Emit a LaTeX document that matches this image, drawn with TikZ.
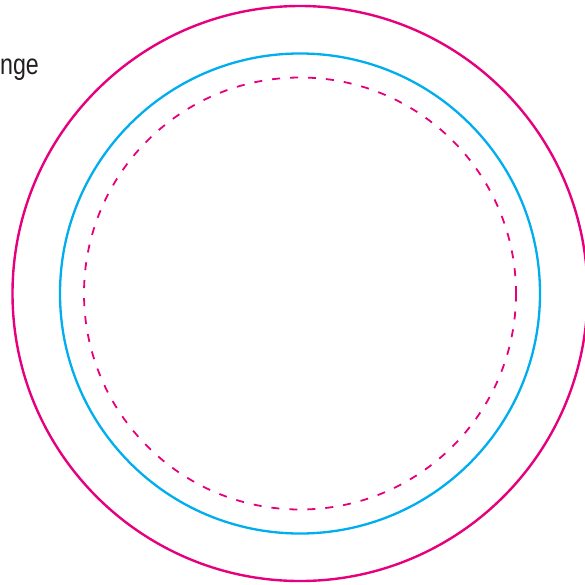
\documentclass[tikz,border=0pt]{standalone}
\usepackage{fontspec}
\setmainfont{Liberation Sans}
\definecolor{mag}{RGB}{230,0,126}
\definecolor{cy}{RGB}{0,174,239}
\definecolor{txt}{RGB}{35,31,32}
\begin{document}
\begin{tikzpicture}[x=1pt,y=-1pt,
  outerring/.style={draw=mag,line width=2.4pt},
  innerring/.style={draw=cy,line width=2.3pt},
  dashring/.style={draw=mag,line width=1.8pt,dash pattern=on 8pt off 10pt},
  lbl/.style={text=txt,font=\fontsize{29}{32}\selectfont,inner sep=0pt,xscale=0.8}]
\useasboundingbox (0,0) rectangle (585,584);
\coordinate (c) at (300,293.5);
\draw[outerring] (c) circle[radius=287.5];
\draw[innerring] (c) circle[radius=240];
\draw[dashring] (c) circle[radius=216];
\node[lbl,anchor=base west] (t) at (0,74) {nge};
\end{tikzpicture}
\end{document}
